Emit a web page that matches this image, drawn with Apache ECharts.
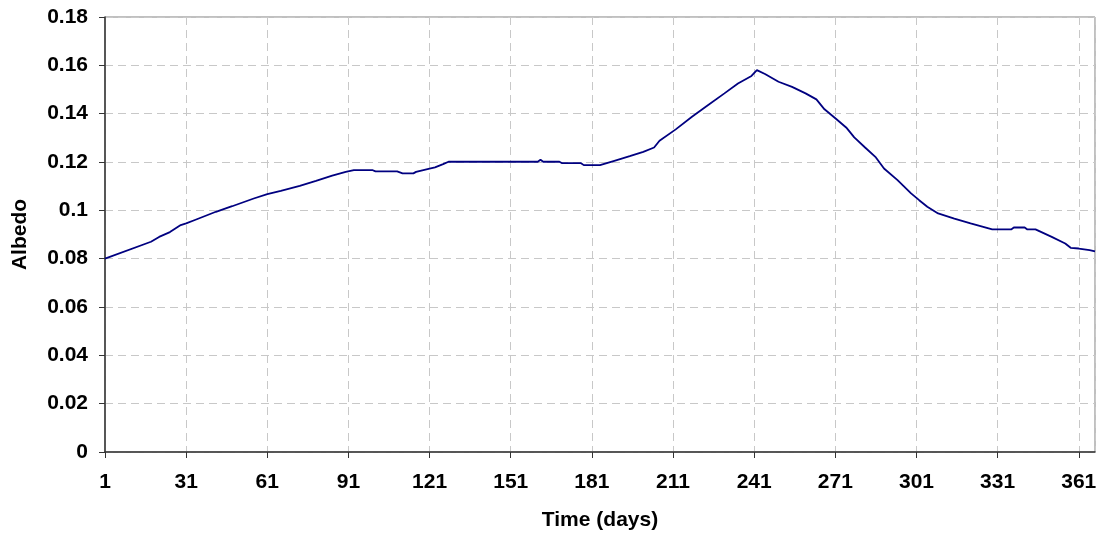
<!DOCTYPE html>
<html>
<head>
<meta charset="utf-8">
<script src="https://cdn.jsdelivr.net/npm/echarts@6/dist/echarts.min.js"></script>
<style>
  html, body { margin: 0; padding: 0; background: #fff; }
  #chart { width: 1100px; height: 536px; }
</style>
</head>
<body>
<div id="chart"></div>
<script>
// day of year
var days = [1, 18, 21, 25, 29, 31, 34, 42, 48, 56, 61, 66, 73, 79, 85, 90, 93, 100, 101, 109,
  111, 115, 116, 121, 123, 126, 128, 161, 162, 163, 169, 170, 177, 178, 181, 184,
  189, 195, 200, 204, 206, 212, 218, 224, 230, 235, 240, 242, 245, 250, 255, 260,
  264, 267, 271, 275, 278, 282, 286, 289, 294, 299, 302, 305, 309, 315, 321, 329,
  336, 337, 341, 342, 345, 351, 356, 358, 361, 365, 367];
// albedo
var albedo = [0.080, 0.087, 0.089, 0.091, 0.0939, 0.0946, 0.0959, 0.0994, 0.1017, 0.1049, 0.1067, 0.1081, 0.1101, 0.1122, 0.1144, 0.1159, 0.1166, 0.1166, 0.1161, 0.1161,
  0.1153, 0.1153, 0.1159, 0.1173, 0.1178, 0.1191, 0.1201, 0.1201, 0.1209, 0.1201, 0.1201, 0.1195, 0.1195, 0.1187, 0.1187, 0.1187,
  0.1204, 0.1224, 0.1242, 0.1260, 0.1288, 0.1335, 0.1387, 0.1436, 0.1484, 0.1525, 0.1556, 0.1580, 0.1564, 0.1532, 0.1511, 0.1484,
  0.1459, 0.1418, 0.1381, 0.1343, 0.1302, 0.1260, 0.1219, 0.1173, 0.1125, 0.1070, 0.1042, 0.1015, 0.0987, 0.0966, 0.0946, 0.0921,
  0.0921, 0.0929, 0.0929, 0.0921, 0.0921, 0.0890, 0.0863, 0.0845, 0.0842, 0.0835, 0.0830];

var xMin = 1, xMax = 367, xStep = 30;
var yMin = 0, yMax = 0.18, yStep = 0.02;

var chart = echarts.init(document.getElementById('chart'));
var font = 'Liberation Sans, Arial, sans-serif';

chart.setOption({
  animation: false,
  grid: { left: 105, right: 5, top: 17, bottom: 84, show: true, borderColor: '#808080', borderWidth: 1 },
  xAxis: {
    type: 'value',
    min: xMin, max: xMax, interval: xStep,
    name: 'Time (days)',
    nameLocation: 'middle',
    nameGap: 58,
    nameTextStyle: { fontFamily: font, fontWeight: 'bold', fontSize: 21, color: '#000' },
    axisLine: { lineStyle: { color: '#333', width: 1.5 } },
    axisTick: { show: true, length: 6, lineStyle: { color: '#333' } },
    axisLabel: {
      fontFamily: font, fontWeight: 'bold', fontSize: 21, color: '#000', margin: 20,
      showMaxLabel: false
    },
    splitLine: { show: true, lineStyle: { color: '#c8c8c8', type: [8, 5] } }
  },
  yAxis: {
    type: 'value',
    min: yMin, max: yMax, interval: yStep,
    name: 'Albedo',
    nameLocation: 'middle',
    nameGap: 74,
    nameTextStyle: { fontFamily: font, fontWeight: 'bold', fontSize: 21, color: '#000' },
    axisLine: { show: true, lineStyle: { color: '#333', width: 1.5 } },
    axisTick: { show: true, length: 6, lineStyle: { color: '#333' } },
    axisLabel: {
      fontFamily: font, fontWeight: 'bold', fontSize: 21, color: '#000', margin: 17,
      formatter: function (v) { return String(+v.toFixed(2)); }
    },
    splitLine: { show: true, lineStyle: { color: '#c8c8c8', type: [8, 5] } }
  },
  series: [{
    type: 'line',
    data: days.map(function (d, i) { return [d, albedo[i]]; }),
    showSymbol: false,
    lineStyle: { color: '#000080', width: 1.8 }
  }]
});
</script>
</body>
</html>
